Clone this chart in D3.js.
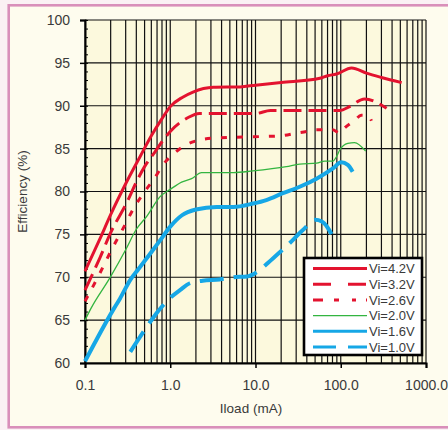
<!DOCTYPE html>
<html>
<head>
<meta charset="utf-8">
<script src="https://cdn.jsdelivr.net/npm/d3@7"></script>
<style>
  body { margin: 0; background: #fbf1f4; }
  svg { display: block; font-family: "Liberation Sans", Arial, sans-serif; }
</style>
</head>
<body>
<div id="chart"></div>
<script>
// efficiency curves, [Iload mA, efficiency %]
const vi42 = [[0.1,70.7],[0.15,74.5],[0.2,77.3],[0.3,80.9],[0.45,84.2],[0.6,86.5],[0.8,88.5],[1.0,89.9],[1.4,91.0],[1.85,91.6],[3.2,92.15],[6.6,92.2],[10,92.4],[20,92.7],[57,93.2],[70,93.5],[89,93.7],[134,94.4],[200,93.8],[300,93.3],[518,92.7]];
const vi32 = [[0.1,68.5],[0.15,72.3],[0.2,75.2],[0.32,79.0],[0.4,81.1],[0.5,82.9],[0.66,84.6],[0.8,85.8],[1.0,87.0],[1.6,88.6],[2.2,89.1],[10,89.1],[15,89.45],[98,89.45],[127,89.9],[190,90.8],[345,89.7]];
const vi26 = [[0.1,67.2],[0.15,70.5],[0.2,73.0],[0.28,75.7],[0.38,78.2],[0.52,80.2],[0.66,81.6],[0.82,83.1],[1.1,84.4],[1.5,85.4],[2.0,85.9],[3,86.2],[11,86.4],[20,86.5],[30,86.8],[40,87.0],[50,87.2],[80,87.2],[98,86.8],[111,87.4],[146,88.3],[174,88.9],[211,88.8],[229,88.25]];
const vi20 = [[0.1,65.0],[0.118,66.4],[0.195,69.9],[0.3,73.2],[0.4,75.6],[0.53,77.1],[0.76,79.4],[1.0,80.25],[1.36,81.1],[1.78,81.5],[2.33,82.2],[5.5,82.2],[9.3,82.4],[23,82.9],[33,83.2],[52,83.3],[65,83.55],[81,83.55],[89,84.05],[98,84.9],[121,85.6],[145,85.7],[196,84.7]];
const vi16 = [[0.1,60.2],[0.22,66.4],[0.257,67.5],[0.34,69.7],[0.42,70.9],[0.63,73.2],[0.76,74.3],[1.0,75.9],[1.36,77.2],[2.0,77.9],[3.5,78.2],[5.5,78.2],[9.4,78.6],[13.4,79.0],[21,79.8],[33,80.55],[52,81.5],[81,82.7],[101,83.4],[121,83.1],[138,82.3]];
const vi10 = [[0.34,61.3],[0.53,64.2],[0.69,65.8],[1.0,67.6],[1.3,68.5],[1.7,69.3],[2.4,69.6],[3.8,69.75],[5.5,70.0],[8,70.1],[10,70.5],[16,72.2],[23,73.6],[36,75.5],[50,76.7],[60,76.5],[70,75.8],[81,74.7]];

const seriesNames = ["Vi=4.2V", "Vi=3.2V", "Vi=2.6V", "Vi=2.0V", "Vi=1.6V", "Vi=1.0V"];
const seriesData = [vi42, vi32, vi26, vi20, vi16, vi10];

const xTicks = [0.1, 1, 10, 100, 1000];
const yTicks = [60, 65, 70, 75, 80, 85, 90, 95, 100];

const red = "#e3132f";
const green = "#33b540";
const blue = "#16a7e6";
const styles = [
  { color: red, width: 3, dash: null, legendDash: null },
  { color: red, width: 3, dash: "18,7", legendDash: "18,17" },
  { color: red, width: 3, dash: "6,10", legendDash: "10,11,5,13,4" },
  { color: green, width: 1.3, dash: null, legendDash: null },
  { color: blue, width: 4, dash: null, legendDash: null },
  { color: blue, width: 4, dash: "24,10", legendDash: "23,12" },
];

const width = 448;
const height = 430;
const margin = { top: 20, right: 22, bottom: 67, left: 85 };

const svg = d3.select("#chart")
  .append("svg")
  .attr("width", width)
  .attr("height", height);

// panel with pink frame
svg.append("rect")
  .attr("x", 8.7).attr("y", 5.3)
  .attr("width", width + 10).attr("height", 422)
  .attr("fill", "#fefcee")
  .attr("stroke", "#d98fba")
  .attr("stroke-width", 2.6);

const x = d3.scaleLog()
  .domain([0.1, 1000])
  .range([margin.left, width - margin.right]);

const y = d3.scaleLinear()
  .domain([60, 100])
  .range([height - margin.bottom, margin.top]);

svg.append("rect")
  .attr("x", x(0.1)).attr("y", y(100))
  .attr("width", x(1000) - x(0.1)).attr("height", y(60) - y(100))
  .attr("fill", "#fcf9dd");

// grid
const gridX = [];
[0.1, 1, 10, 100].forEach((d) => {
  for (let k = 1; k < 10; k++) gridX.push(d * k);
});
gridX.push(1000);

svg.append("g")
  .selectAll("line")
  .data(gridX)
  .join("line")
  .attr("x1", (d) => x(d)).attr("x2", (d) => x(d))
  .attr("y1", y(100)).attr("y2", y(60))
  .attr("stroke", "#111")
  .attr("stroke-width", 1.2);

svg.append("g")
  .selectAll("line")
  .data(yTicks)
  .join("line")
  .attr("x1", x(0.1)).attr("x2", x(1000))
  .attr("y1", (d) => y(d)).attr("y2", (d) => y(d))
  .attr("stroke", "#111")
  .attr("stroke-width", 1.2);

// axes
const yAxis = svg.append("g")
  .attr("transform", `translate(${x(0.1)},0)`)
  .call(d3.axisLeft(y).tickValues(yTicks).tickSize(5).tickPadding(10).tickFormat(d3.format("d")));

svg.append("g")
  .attr("transform", `translate(${x(0.1)},0)`)
  .call(d3.axisRight(y).tickValues(d3.range(60, 101, 1)).tickSize(3).tickFormat(""))
  .call((g) => g.select(".domain").remove());

const xAxis = svg.append("g")
  .attr("transform", `translate(0,${y(60)})`)
  .call(d3.axisBottom(x).tickValues(xTicks).tickSize(5).tickPadding(12).tickFormat(d3.format(".1f")));

[yAxis, xAxis].forEach((g) => {
  g.select(".domain").attr("stroke", "#000").attr("stroke-width", 2);
  g.selectAll(".tick line").attr("stroke", "#000").attr("stroke-width", 1.5);
  g.selectAll(".tick text")
    .attr("fill", "#3a3a3a")
    .style("font-size", "14px")
    .style("font-family", "Liberation Sans, Arial, sans-serif");
});

// titles
svg.append("text")
  .attr("x", 251).attr("y", 413)
  .attr("text-anchor", "middle")
  .attr("fill", "#3a3a3a")
  .style("font-size", "13.5px")
  .text("Iload (mA)");

svg.append("text")
  .attr("transform", `translate(27,${(y(60) + y(100)) / 2}) rotate(-90)`)
  .attr("text-anchor", "middle")
  .attr("fill", "#3a3a3a")
  .style("font-size", "13.5px")
  .text("Efficiency (%)");

// curves
const line = d3.line()
  .x((d) => x(d[0]))
  .y((d) => y(d[1]))
  .curve(d3.curveMonotoneX);

svg.append("g")
  .selectAll("path")
  .data(seriesData)
  .join("path")
  .attr("d", line)
  .attr("fill", "none")
  .attr("stroke", (d, i) => styles[i].color)
  .attr("stroke-width", (d, i) => styles[i].width)
  .attr("stroke-dasharray", (d, i) => styles[i].dash)
  .attr("stroke-linejoin", "round");

// legend
const legend = svg.append("g").attr("transform", "translate(304,258)");

legend.append("rect")
  .attr("width", 118).attr("height", 97)
  .attr("fill", "#fff")
  .attr("stroke", "#000")
  .attr("stroke-width", 2.6);

const legendRow = legend.selectAll(".legend-row")
  .data(seriesNames)
  .join("g")
  .attr("class", "legend-row")
  .attr("transform", (d, i) => `translate(0,${10.5 + i * 15.7})`);

legendRow.append("line")
  .attr("x1", 9).attr("x2", 63)
  .attr("stroke", (d, i) => styles[i].color)
  .attr("stroke-width", (d, i) => Math.min(styles[i].width, 3))
  .attr("stroke-dasharray", (d, i) => styles[i].legendDash);

legendRow.append("text")
  .attr("x", 65)
  .attr("dy", "0.36em")
  .attr("fill", "#3a3a3a")
  .style("font-size", "13px")
  .text((d) => d);
</script>
</body>
</html>
